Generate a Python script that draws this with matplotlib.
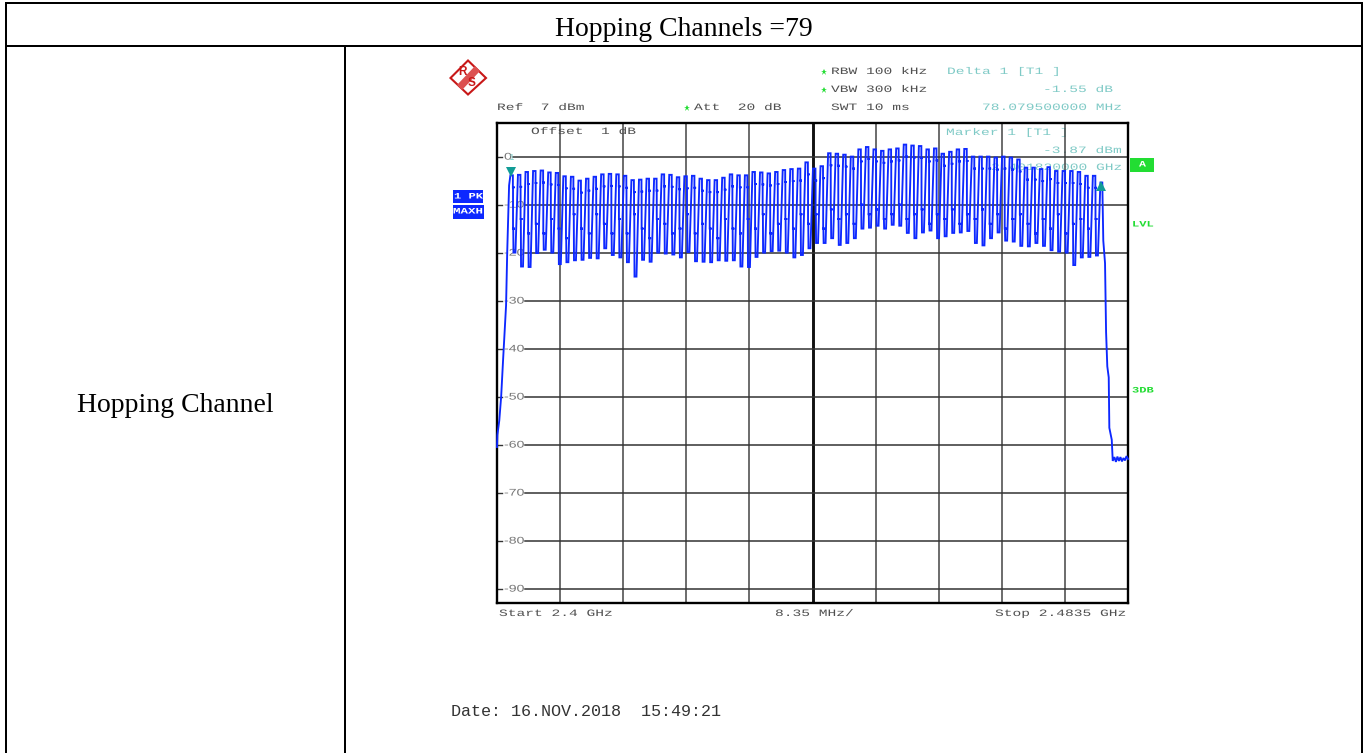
import matplotlib
matplotlib.use("Agg")
import matplotlib.pyplot as plt
from matplotlib.patches import Polygon, Rectangle
from matplotlib.patheffects import AbstractPathEffect
from matplotlib.transforms import Affine2D

# peak level of each of the 79 hops, knee and trough of the first 78 (dBm)
peak_db = [-3.9, -3.8, -3.2, -3.0, -2.9, -3.3, -3.4, -4.1, -4.2, -5.0, -4.6, -4.2, -3.7,
           -3.6, -3.7, -4.0, -4.9, -4.8, -4.6, -4.6, -3.7, -3.8, -4.3, -4.1, -4.0, -4.6,
           -4.9, -4.9, -4.4, -3.7, -3.9, -3.9, -3.2, -3.3, -3.5, -3.2, -2.8, -2.6, -2.5,
           -1.2, -2.5, -2.0, 0.7, 0.6, 0.4, 0.0, 1.5, 2.0, 1.5, 1.2, 1.5, 1.7, 2.5, 2.3,
           2.2, 1.5, 1.7, 0.6, 1.0, 1.5, 1.6, 0.0, 0.0, 0.0, -0.2, 0.0, -0.2, -0.6, -2.3,
           -2.3, -2.6, -2.2, -3.0, -3.0, -3.0, -3.2, -4.0, -4.0, -5.4]
knee_db = [-15, -13, -16, -14, -16, -13, -15, -17, -12, -15, -16, -12, -14, -16, -13, -16,
           -12, -15, -17, -13, -14, -16, -15, -12, -16, -14, -15, -17, -13, -15, -16, -13,
           -15, -12, -16, -14, -13, -15, -12, -14, -12, -15, -11, -13, -12, -14, -10, -12,
           -11, -13, -12, -10, -13, -12, -11, -14, -12, -13, -11, -14, -12, -13, -11, -14,
           -12, -15, -13, -12, -14, -16, -13, -15, -12, -16, -14, -13, -15, -13]
low_db = [-20.0, -22.9, -23.0, -20.1, -19.4, -20.0, -22.4, -22.0, -21.6, -21.5, -21.1, -21.2,
          -19.1, -20.5, -21.0, -22.0, -25.0, -21.5, -21.9, -20.0, -20.2, -20.4, -21.0,
          -19.9, -21.8, -21.9, -22.0, -21.6, -21.7, -21.6, -22.9, -23.0, -20.9, -20.0,
          -19.7, -19.6, -20.0, -21.0, -20.5, -19.1, -18.0, -18.0, -17.0, -18.4, -18.0,
          -17.0, -15.0, -14.8, -14.4, -15.0, -14.2, -14.4, -15.9, -17.0, -15.8, -15.4,
          -17.0, -16.6, -15.9, -15.8, -15.5, -18.0, -18.5, -17.0, -15.8, -17.5, -17.7,
          -18.6, -18.7, -18.0, -18.6, -19.5, -19.8, -20.0, -22.6, -21.0, -20.9, -20.6]
skirt_start_mhz = [0.0, 0.05, 0.3, 0.55, 0.8, 1.2, 1.35, 1.6]
skirt_start_db = [-60.5, -58.0, -55.0, -50.0, -42.5, -31.0, -20.0, -6.0]
skirt_end_mhz = [80.23, 80.46, 80.6, 80.76, 80.95, 81.03, 81.35, 81.48, 81.7, 81.9, 82.1,
                 82.3, 82.5, 82.7, 82.9, 83.1, 83.3, 83.5]
skirt_end_db = [-17.5, -22.2, -36.6, -43.7, -46.0, -56.5, -59.0, -63.4, -62.6, -63.6, -62.5,
                -63.4, -62.6, -63.5, -62.8, -63.3, -62.4, -63.0]
y_labels = ["0", "-10", "-20", "-30", "-40", "-50", "-60", "-70", "-80", "-90"]
y_levels = [0, -10, -20, -30, -40, -50, -60, -70, -80, -90]

GRAY = "#505050"
TEAL = "#7fcac6"
GREEN = "#22dd33"
BLUE = "#0d28ff"


class Stretch(AbstractPathEffect):
    # the analyser font is a courier drawn wider than it is tall
    def __init__(self, sx):
        super().__init__()
        self.sx = sx

    def draw_path(self, renderer, gc, tpath, affine, rgbFace=None):
        renderer.draw_path(gc, tpath, Affine2D().scale(self.sx, 1) + affine, rgbFace)


fig = plt.figure(figsize=(13.67, 7.53), dpi=100)

# whole page in pixels, y down
page = fig.add_axes([0, 0, 1, 1])
page.set_xlim(0, 1367)
page.set_ylim(753, 0)
page.axis("off")

for xs, ys in [((5, 1362.5), (2.5, 2.5)), ((5, 1362.5), (45.5, 45.5)), ((6, 6), (2, 753)),
               ((1362, 1362), (2, 753)), ((345, 345), (45, 753))]:
    page.plot(xs, ys, color="black", lw=1.44, solid_capstyle="butt")

page.text(683.5, 29, "Hopping Channels =79", family="Liberation Serif", fontsize=20,
          ha="center", va="center")
page.text(175, 405, "Hopping Channel", family="Liberation Serif", fontsize=20,
          ha="center", va="center")


def screen(x, y, s, color=GRAY, sx=1.5, size=7.0, weight="normal"):
    page.text(x, y, s, family="Liberation Mono", fontsize=size, color=color, ha="left",
              va="center", weight=weight, path_effects=[Stretch(sx)], zorder=6)


screen(497, 107, "Ref  7 dBm")
screen(694, 107, "Att  20 dB")
screen(831, 71, "RBW 100 kHz")
screen(831, 89, "VBW 300 kHz")
screen(831, 107, "SWT 10 ms")
screen(947, 71, "Delta 1 [T1 ]", TEAL)
screen(1043, 89, "-1.55 dB", TEAL)
screen(982, 107, "78.079500000 MHz", TEAL)
screen(531, 131, "Offset  1 dB")
screen(946, 132, "Marker 1 [T1 ]", TEAL)
screen(1043, 150, "-3.87 dBm", TEAL)
screen(991, 167, "2.401820000 GHz", TEAL)
screen(499, 613, "Start 2.4 GHz")
screen(775, 613, "8.35 MHz/")
screen(995, 613, "Stop 2.4835 GHz")
screen(1132, 225, "LVL", GREEN, sx=1.45, size=6.0, weight="bold")
screen(1132, 391, "3DB", GREEN, sx=1.45, size=6.0, weight="bold")
page.text(451, 712, "Date: 16.NOV.2018  15:49:21", family="Liberation Mono", fontsize=12.1,
          color="#333333", ha="left", va="center")
for y, x in [(72, 824), (90, 824), (108, 687)]:
    page.plot([x], [y], marker="*", ms=4.5, color=GREEN, mew=0)

# side labels
page.add_patch(Rectangle((1130, 158), 24, 14, fc=GREEN, ec="none"))
screen(1139, 165, "A", "white", sx=1.4, size=6.0, weight="bold")
page.add_patch(Rectangle((453, 190), 30, 13, fc=BLUE, ec="none"))
page.add_patch(Rectangle((453, 205), 31, 14, fc=BLUE, ec="none"))
screen(454, 197, "1 PK", "white", sx=1.45, size=6.0, weight="bold")
screen(453, 212, "MAXH", "white", sx=1.5, size=6.0, weight="bold")

# R&S logo
red = "#c81818"
page.add_patch(Polygon([(468, 60.5), (486, 78), (468, 94.5), (450.5, 78)], closed=True, fc="white",
                       ec=red, lw=1.5))
page.add_patch(Polygon([(457, 85), (475, 66), (480, 71), (462, 90)], closed=True, fc="#dc5050",
                       ec="none"))
page.text(462.5, 71.5, "R", family="Liberation Sans", fontsize=8.5, weight="bold", color=red,
          ha="center", va="center")
page.text(472, 83, "S", family="Liberation Sans", fontsize=8.5, weight="bold", color=red,
          ha="center", va="center")

# spectrum axes, same scale as the instrument: 8.35 MHz/div and 10 dB/div
ax = fig.add_axes([497 / 1367, 1 - 603 / 753, (1128 - 497) / 1367, (603 - 123) / 753])
ax.set_xlim(0, 83.5)
ax.set_ylim(-93, 7)
ax.patch.set_alpha(0)
ax.set_xticks([])
ax.set_yticks([])
for s in ax.spines.values():
    s.set_linewidth(1.7)
for i in range(1, 10):
    ax.axvline(8.35 * i, color="#111111" if i == 5 else "#444444", lw=2.1 if i == 5 else 1.1)
for v, lab in zip(y_levels, y_labels):
    ax.axhline(v, color="#333333", lw=1.1, xmin=0.025 if v == 0 else 0.044)
    ax.plot([0, 0.66], [v, v], color="#333333", lw=1)
    ax.text(0.93, v, lab, family="Liberation Sans", fontsize=7, color="#777777", va="center",
            path_effects=[Stretch(1.45)])

# trace: every hop falls almost straight from its peak with small sweep ticks on the way,
# sits at the trough, then climbs to the next peak
channel_mhz = [1.82 + i * 78.0795 / 78 for i in range(79)]
freq = list(skirt_start_mhz)
level = list(skirt_start_db)
for f, p, k, l in zip(channel_mhz, peak_db, knee_db, low_db):
    freq += [f - 0.05, f + 0.28, f + 0.28, f + 0.5, f + 0.3, f + 0.3, f + 0.55, f + 0.33,
             f + 0.36, f + 0.62, f + 0.62]
    level += [p, p, p - 2.5, p - 2.5, p - 2.5, k, k, k, l, l, l]
freq += [channel_mhz[78] - 0.05, channel_mhz[78] + 0.2]
level += [peak_db[78], peak_db[78]]
freq += skirt_end_mhz
level += skirt_end_db
ax.plot(freq, level, color=BLUE, lw=1.35, solid_joinstyle="miter", zorder=4, clip_on=False)

# delta marker and marker 1
ax.plot([channel_mhz[0]], [peak_db[0] + 0.6], marker="v", ms=6.5, color="#119c96", mew=0, zorder=5)
ax.plot([channel_mhz[78]], [peak_db[78] - 0.7], marker="^", ms=6.5, color="#119c96", mew=0, zorder=5)
ax.text(channel_mhz[0], -0.2, "1", family="Liberation Mono", fontsize=6.5, color=TEAL,
        ha="center", va="center", zorder=5)

fig.savefig("out.png", dpi=100)
